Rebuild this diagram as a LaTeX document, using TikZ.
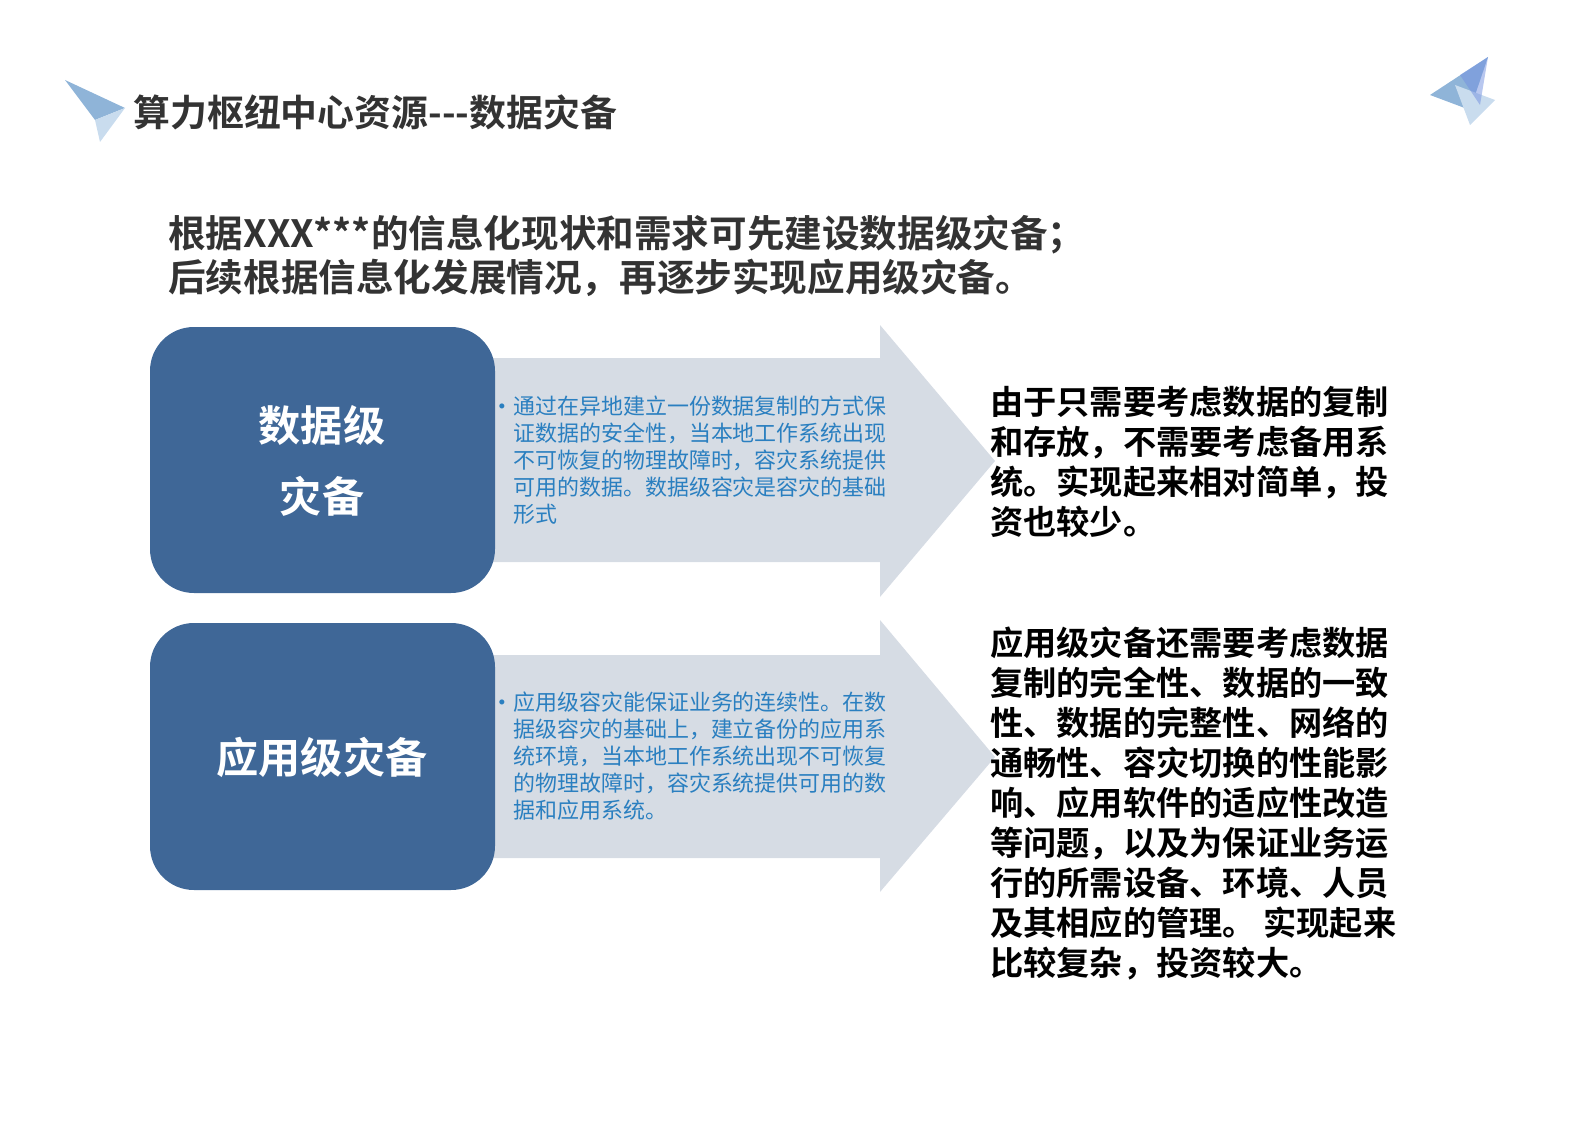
\documentclass[tikz,border=0pt]{standalone}
\usepackage{fontspec}
\newfontfamily\cjk{Noto Sans CJK SC}
\newfontfamily\cjkb{Noto Sans CJK SC Bold}
\begin{document}
\begin{tikzpicture}[x=0.02cm,y=-0.02cm,
  ttl/.style={anchor=west,inner sep=0,text=titlegrey,font=\cjkb\fontsize{21}{24}\selectfont},
  big/.style={text=white,font=\cjkb\fontsize{24}{40}\selectfont,align=center},
  small/.style={anchor=north west,inner sep=0,text=textblue,font=\cjk\fontsize{12.5}{15.3}\selectfont,align=left},
  rtext/.style={anchor=north west,inner sep=0,text=black,font=\cjkb\fontsize{18.9}{22.7}\selectfont,align=left}]
\definecolor{boxblue}{HTML}{3F6797}
\definecolor{arrgrey}{HTML}{D6DCE4}
\definecolor{textblue}{HTML}{2A7FC0}
\definecolor{titlegrey}{HTML}{333333}
\definecolor{ic1}{HTML}{8FB4D8}
\definecolor{ic2}{HTML}{C9DCEE}
\useasboundingbox (0,0) rectangle (1587,1122);
% icons
\fill[ic1] (65,80) -- (125,108) -- (95,120) -- cycle;
\fill[ic2] (95,120) -- (125,108) -- (100,142) -- cycle;
\fill[ic1] (1430,95) -- (1488,57) -- (1470,110) -- cycle;
\fill[ic2] (1455,85) -- (1495,100) -- (1470,125) -- cycle;
\fill[ic1!80!blue,opacity=0.5] (1460,75) -- (1488,57) -- (1480,105) -- cycle;
% title
\node[ttl] (title) at (133,112) {算力枢纽中心资源---数据灾备};
\node[ttl,font=\cjkb\fontsize{21.4}{24}\selectfont] (h1) at (168,235) {根据XXX***的信息化现状和需求可先建设数据级灾备；};
\node[ttl,font=\cjkb\fontsize{21.4}{24}\selectfont] (h2) at (168,278) {后续根据信息化发展情况，再逐步实现应用级灾备。};
% arrows
\fill[arrgrey] (480,358) -- (880,358) -- (880,325) -- (995,461) -- (880,597) -- (880,562) -- (480,562) -- cycle;
\fill[arrgrey] (480,655) -- (880,655) -- (880,620) -- (995,757) -- (880,892) -- (880,858) -- (480,858) -- cycle;
% boxes
\fill[boxblue,rounded corners=25pt] (150,327) rectangle (495,593);
\fill[boxblue,rounded corners=25pt] (150,623) rectangle (495,890);
\node[big] (b1) at (322,461) {数据级\\灾备};
\node[big] (b2) at (322,757) {应用级灾备};
% arrow texts
\node[text=textblue,inner sep=0,font=\fontsize{10}{10}\selectfont] at (502,407) {•};
\node[small] (t1) at (513,396) {通过在异地建立一份数据复制的方式保\\证数据的安全性，当本地工作系统出现\\不可恢复的物理故障时，容灾系统提供\\可用的数据。数据级容灾是容灾的基础\\形式};
\node[text=textblue,inner sep=0,font=\fontsize{10}{10}\selectfont] at (502,703) {•};
\node[small] (t2) at (513,692) {应用级容灾能保证业务的连续性。在数\\据级容灾的基础上，建立备份的应用系\\统环境，当本地工作系统出现不可恢复\\的物理故障时，容灾系统提供可用的数\\据和应用系统。};
% right texts
\node[rtext] (r1) at (990,386) {由于只需要考虑数据的复制\\和存放，不需要考虑备用系\\统。实现起来相对简单，投\\资也较少。};
\node[rtext] (r2) at (990,627) {应用级灾备还需要考虑数据\\复制的完全性、数据的一致\\性、数据的完整性、网络的\\通畅性、容灾切换的性能影\\响、应用软件的适应性改造\\等问题，以及为保证业务运\\行的所需设备、环境、人员\\及其相应的管理。 实现起来\\比较复杂，投资较大。};
\end{tikzpicture}
\end{document}
